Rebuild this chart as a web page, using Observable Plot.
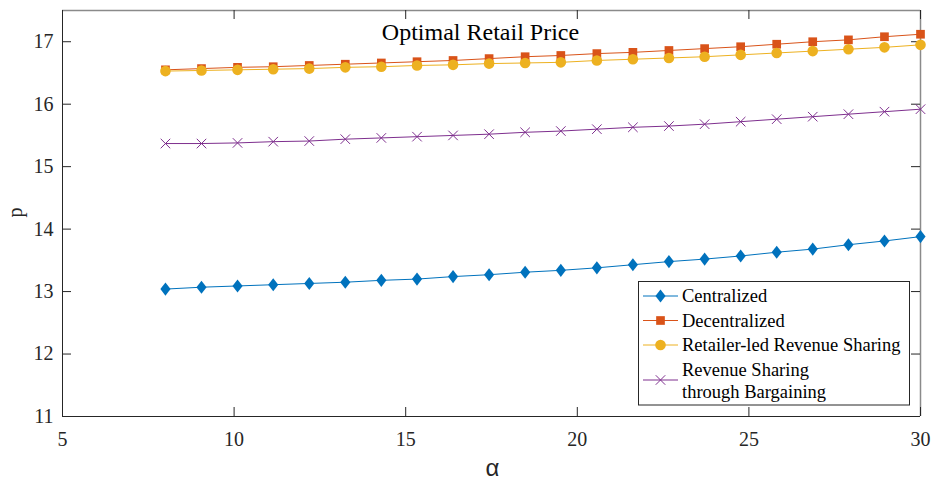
<!DOCTYPE html>
<html><head><meta charset="utf-8">
<script src="https://cdn.jsdelivr.net/npm/d3@7"></script>
<script src="https://cdn.jsdelivr.net/npm/@observablehq/plot@0.6"></script>
<style>
body{margin:0;background:#fff}
#chart{position:relative;width:935px;height:482px}
</style>
</head><body><div id="chart"></div>
<script>
// ---- data ----
const alpha = [8, 9.05, 10.1, 11.14, 12.19, 13.24, 14.29, 15.33, 16.38, 17.43, 18.48,
               19.52, 20.57, 21.62, 22.67, 23.71, 24.76, 25.81, 26.86, 27.9, 28.95, 30];
const centralized = [13.04, 13.07, 13.09, 13.11, 13.13, 13.15, 13.18, 13.20, 13.24, 13.27, 13.31,
                     13.34, 13.38, 13.43, 13.48, 13.52, 13.57, 13.63, 13.68, 13.75, 13.81, 13.88];
const decentralized = [16.55, 16.57, 16.59, 16.60, 16.62, 16.64, 16.66, 16.68, 16.70, 16.73, 16.76,
                       16.78, 16.81, 16.83, 16.86, 16.89, 16.92, 16.96, 17.00, 17.03, 17.08, 17.12];
const retailerLed = [16.53, 16.54, 16.55, 16.56, 16.57, 16.59, 16.60, 16.62, 16.63, 16.65, 16.66,
                     16.67, 16.70, 16.72, 16.74, 16.76, 16.79, 16.82, 16.85, 16.88, 16.91, 16.95];
const bargaining = [15.37, 15.37, 15.38, 15.40, 15.41, 15.44, 15.46, 15.48, 15.50, 15.52, 15.55,
                    15.57, 15.60, 15.63, 15.65, 15.68, 15.72, 15.76, 15.80, 15.84, 15.88, 15.92];
const seriesNames = ["Centralized", "Decentralized", "Retailer-led Revenue Sharing", ["Revenue Sharing", "through Bargaining"]];
const seriesValues = [centralized, decentralized, retailerLed, bargaining];
const colors = ["#0072BD", "#D95319", "#EDB120", "#7E2F8E"];
const xTicks = [5, 10, 15, 20, 25, 30];
const yTicks = [11, 12, 13, 14, 15, 16, 17];
const titleText = "Optimal Retail Price";
const xLabel = "α";
const yLabel = "p";

// ---- layout ----
const W = 935, H = 482;
const mL = 62, mR = 15, mT = 10, mB = 66;
const FW = W - mL - mR, FH = H - mT - mB;
const TL = 9; // tick length
const serif = "Liberation Serif, Times New Roman, serif";
const sans = "Liberation Sans, Arial, sans-serif";

const diamond = {
  draw(ctx, size) {
    const r = Math.sqrt(size / Math.PI);
    const h = r * 1.6, w = r * 1.24;
    ctx.moveTo(0, -h); ctx.lineTo(w, 0); ctx.lineTo(0, h); ctx.lineTo(-w, 0); ctx.closePath();
  }
};
const symbols = [diamond, "square", "circle", "times"];
const radii = [4.1, 4.9, 5.3, 4.4];

const rows = seriesValues.map((vals, s) => alpha.map((a, j) => ({s, a, p: vals[j]})));

const marks = [
  // box
  Plot.ruleX([30], {stroke: "#8a8a8a", strokeWidth: 1.5}),
  Plot.ruleY([17.5], {stroke: "#8a8a8a", strokeWidth: 1.5}),
  Plot.ruleX([5], {stroke: "#262626"}),
  Plot.ruleY([11], {stroke: "#262626"}),
  // inward ticks on all four sides
  Plot.tickX(xTicks, {x: d => d, insetTop: FH - TL, stroke: "#262626"}),
  Plot.tickX(xTicks, {x: d => d, insetBottom: FH - TL, stroke: "#262626"}),
  Plot.tickY(yTicks, {y: d => d, insetRight: FW - TL, stroke: "#262626"}),
  Plot.tickY(yTicks, {y: d => d, insetLeft: FW - TL, stroke: "#262626"}),
  Plot.axisX(xTicks, {tickSize: 0, tickPadding: 15, label: null, tickFormat: d => String(d),
                      fill: "#262626", fontFamily: serif, fontSize: 20}),
  Plot.axisY(yTicks, {tickSize: 0, tickPadding: 9, label: null, tickFormat: d => String(d),
                      fill: "#262626", fontFamily: serif, fontSize: 20}),
];
rows.forEach((data, s) => {
  marks.push(Plot.line(data, {x: "a", y: "p", stroke: colors[s], strokeWidth: 1}));
  if (symbols[s] === "times") {
    marks.push(Plot.dot(data, {x: "a", y: "p", symbol: "times", r: radii[s], stroke: colors[s], strokeWidth: 1}));
  } else {
    marks.push(Plot.dot(data, {x: "a", y: "p", symbol: symbols[s], r: radii[s], fill: colors[s], stroke: "none"}));
  }
});
marks.push(
  Plot.text([titleText], {text: d => d, frameAnchor: "top", dx: -11, dy: 29, lineAnchor: "bottom",
                          fontSize: 24, fontFamily: serif, fill: "#000"}),
  Plot.text([xLabel], {text: d => d, frameAnchor: "bottom", dx: 1, dy: 59, lineAnchor: "bottom",
                       fontSize: 24, fontFamily: sans, fill: "#262626"}),
  Plot.text([yLabel], {text: d => d, frameAnchor: "left", dx: -41, dy: 4, rotate: -90, lineAnchor: "bottom",
                       fontSize: 20, fontFamily: serif, fill: "#262626"})
);

const svg = Plot.plot({
  width: W, height: H,
  marginLeft: mL, marginRight: mR, marginTop: mT, marginBottom: mB,
  style: {fontFamily: serif, fontSize: "20px", background: "#fff", overflow: "visible"},
  x: {domain: [5, 30]},
  y: {domain: [11, 17.5]},
  marks
});

// ---- legend ----
const lg = d3.select(svg).append("g").attr("font-family", serif).attr("font-size", 18.5)
  .attr("text-anchor", "start");
lg.append("rect").attr("x", 638.5).attr("y", 281.5).attr("width", 271).attr("height", 123.5)
  .attr("fill", "#fff").attr("stroke", "#262626").attr("stroke-width", 1);
const rowY = [296, 320.5, 345, 380];
seriesNames.forEach((name, s) => {
  const y = rowY[s];
  lg.append("line").attr("x1", 643).attr("x2", 678).attr("y1", y).attr("y2", y)
    .attr("stroke", colors[s]).attr("stroke-width", 1);
  const size = radii[s] * radii[s] * Math.PI;
  const type = symbols[s] === "times" ? d3.symbolTimes : symbols[s] === "square" ? d3.symbolSquare
             : symbols[s] === "circle" ? d3.symbolCircle : diamond;
  const p = lg.append("path").attr("transform", `translate(660.5,${y})`).attr("d", d3.symbol(type, size)());
  if (symbols[s] === "times") p.attr("fill", "none").attr("stroke", colors[s]).attr("stroke-width", 1);
  else p.attr("fill", colors[s]);
  const lines = Array.isArray(name) ? name : [name];
  lines.forEach((t, k) => {
    const ty = lines.length === 1 ? y : y + (k === 0 ? -10.5 : 11.5);
    lg.append("text").attr("x", 682).attr("y", ty).attr("dy", "0.33em").attr("fill", "#000")
      .attr("text-anchor", "start").text(t);
  });
});

document.getElementById("chart").appendChild(svg);
</script>
</body></html>
